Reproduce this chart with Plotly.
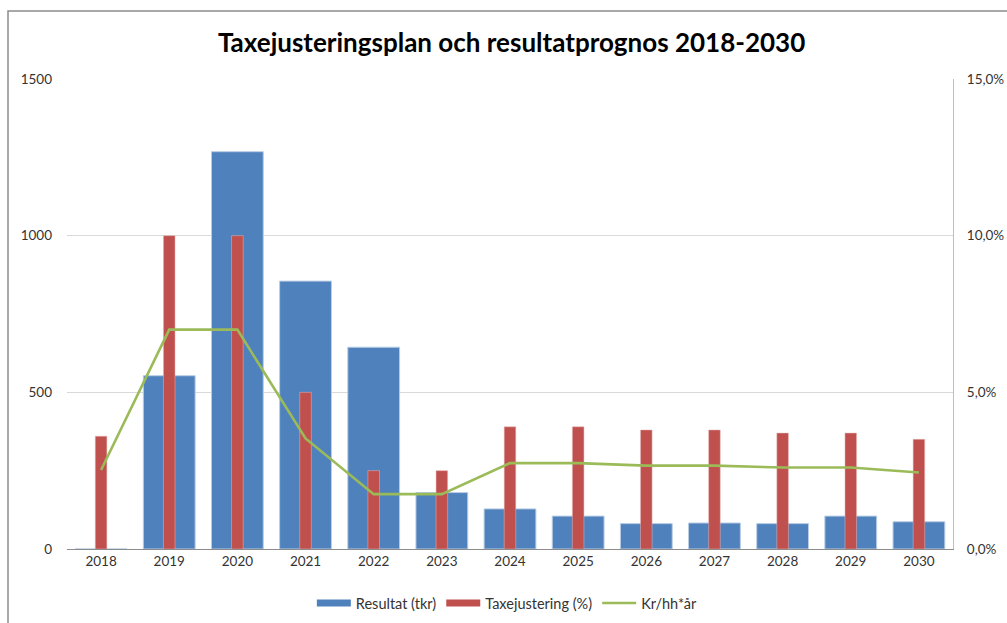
import plotly.graph_objects as go

years = ["2018", "2019", "2020", "2021", "2022", "2023", "2024", "2025", "2026", "2027", "2028", "2029", "2030"]
resultat_tkr = [0, 553, 1268, 855, 644, 180, 128, 105, 81, 83, 81, 105, 87]
taxejustering_pct = [3.6, 10.0, 10.0, 5.0, 2.5, 2.5, 3.9, 3.9, 3.8, 3.8, 3.7, 3.7, 3.5]
kr_hh_ar = [252, 700, 700, 353, 175, 175, 274, 274, 266, 266, 260, 260, 244]

left_ticks = [0, 500, 1000, 1500]
right_ticks = [0, 5, 10, 15]
right_tick_text = ["0,0%", "5,0%", "10,0%", "15,0%"]

FONT = "Lato"
BLUE, RED, GREEN = "#4F81BD", "#C0504D", "#9BBB59"

fig = go.Figure()
fig.add_trace(go.Bar(
    x=years, y=resultat_tkr, name="Resultat (tkr)", width=0.76, showlegend=False,
    marker=dict(color=BLUE, line=dict(color="#B9CDE5", width=1)),
    yaxis="y",
))
fig.add_trace(go.Bar(
    x=years, y=taxejustering_pct, name="Taxejustering (%)", width=0.17, showlegend=False,
    marker=dict(color=RED, line=dict(color="#E6B9B8", width=0.5)),
    yaxis="y2",
))
fig.add_trace(go.Scatter(
    x=years, y=kr_hh_ar, name="Kr/hh*år", mode="lines", showlegend=False,
    line=dict(color=GREEN, width=2.6),
    yaxis="y3",
))
# legend entries (Excel-style wide swatches)
for nm, col, w in [("Resultat (tkr)", BLUE, 7), ("Taxejustering (%)", RED, 7), ("Kr/hh*år", GREEN, 2.6)]:
    fig.add_trace(go.Scatter(x=[None], y=[None], name=nm, mode="lines",
                             line=dict(color=col, width=w), yaxis="y3"))

L, R, T, B = 67, 54, 79, 74
W, H = 1007, 623
pw, ph = W - L - R, H - T - B
bx = (8 - L) / pw
by = (549 - 11) / ph

fig.update_layout(
    width=W, height=H,
    margin=dict(l=L, r=R, t=T, b=B, autoexpand=False),
    paper_bgcolor="white", plot_bgcolor="white",
    barmode="overlay",
    font=dict(family=FONT, size=13.5, color="#333333"),
    title=dict(text="<b>Taxejusteringsplan och resultatprognos 2018-2030</b>",
               x=0.508, xanchor="center", y=1 - 43 / H, yanchor="middle",
               font=dict(family=FONT, size=26, color="#000000")),
    xaxis=dict(type="category", showgrid=False, showline=True, linecolor="#8C8C8C",
               linewidth=1.2, ticks="", tickfont=dict(size=13.5, color="#333333")),
    yaxis=dict(range=[0, 1500], tickvals=left_ticks, showgrid=True, gridcolor="#D9D9D9",
               gridwidth=1.2, zeroline=False, showline=False, ticks="", ticklabelstandoff=14),
    yaxis2=dict(range=[0, 15], overlaying="y", side="right", tickvals=right_ticks,
                ticktext=right_tick_text, showgrid=False, zeroline=False, showline=True,
                linecolor="#BFBFBF", linewidth=1.2, ticks="", ticklabelstandoff=10),
    yaxis3=dict(range=[0, 1500], overlaying="y", visible=False),
    legend=dict(orientation="h", x=0.497, xanchor="center", y=(549 - 603) / ph,
                yanchor="middle", font=dict(size=14.5, color="#333333"),
                itemwidth=34, tracegroupgap=0, entrywidth=0),
    showlegend=True,
    shapes=[dict(type="path", xref="paper", yref="paper",
                 path=f"M {bx},-0.3 L {bx},{by} L 1.2,{by}",
                 line=dict(color="#8C8C8C", width=1.5))],
)

fig.write_html("out.html")
